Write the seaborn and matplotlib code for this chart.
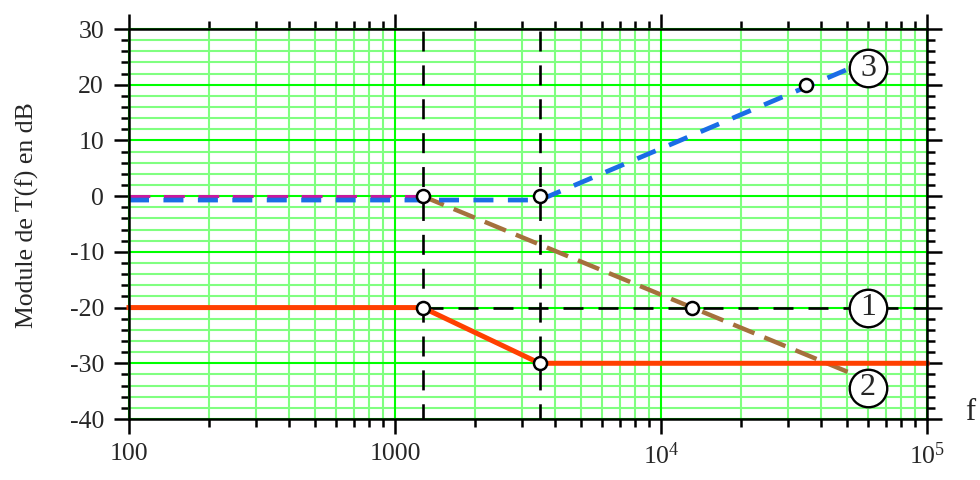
import matplotlib
matplotlib.use("Agg")
import matplotlib.pyplot as plt
import seaborn as sns
from matplotlib.ticker import FixedLocator, NullFormatter, FixedFormatter

# ---- data ----
f_corner = [1270, 3500]                     # corner frequencies (Hz)

# curve 1 (red, solid): asymptotic gain
red_f = [100, 1270, 3500, 100000]
red_db = [-20, -20, -30, -30]

# curve 2: flat part (magenta) then -20 dB/dec (brown)
mag_f = [100, 1270]
mag_db = [0, 0]
brown_f = [1270, 55000]
brown_db = [0, -32.3]

# curve 3 (blue): flat then +20 dB/dec
blue_f = [100, 3500, 50500]
blue_db = [-0.7, -0.7, 22.8]

# reference level -20 dB (black dashed)
ref_f = [1270, 100000]
ref_db = [-20, -20]

# marked points
pt_f = [1270, 3500, 1270, 3500, 13100, 35100]
pt_db = [0, 0, -20, -30, -20, 20]

# curve labels
lab_text = ["1", "2", "3"]
lab_f = [60000, 60000, 60000]
lab_db = [-20, -34.4, 23]

yticks = [30, 20, 10, 0, -10, -20, -30, -40]
xticks = [100, 1000, 10000, 100000]
xticklabels = ["100", "1000", r"$10^4$", r"$10^5$"]
minor_x = [m * 10 ** e for e in range(2, 5) for m in range(2, 10)]
minor_y = [v for v in range(-40, 31, 2) if v % 10]

# ---- style ----
sns.set_theme(style="white")
plt.rcParams["font.family"] = ["Liberation Serif", "DejaVu Serif"]
plt.rcParams["mathtext.fontset"] = "custom"
plt.rcParams["mathtext.rm"] = "Liberation Serif"
plt.rcParams["mathtext.it"] = "Liberation Serif:italic"
plt.rcParams["axes.unicode_minus"] = False
plt.rcParams["lines.scale_dashes"] = False

FS = 18.5
fig = plt.figure(figsize=(9.8, 4.8), dpi=100)
ax = fig.add_axes([129 / 980, (480 - 419) / 480, (927 - 129) / 980, 390 / 480])
ax.set_xscale("log")
ax.set_xlim(100, 100000)
ax.set_ylim(-40, 30)

ax.xaxis.set_major_locator(FixedLocator(xticks))
ax.xaxis.set_major_formatter(FixedFormatter(xticklabels))
ax.xaxis.set_minor_locator(FixedLocator(minor_x))
ax.xaxis.set_minor_formatter(NullFormatter())
ax.yaxis.set_major_locator(FixedLocator(yticks))
ax.yaxis.set_major_formatter(FixedFormatter([str(v) for v in yticks]))
ax.yaxis.set_minor_locator(FixedLocator(minor_y))
ax.grid(False)

# grid: minor first, major on top
for v in minor_x:
    ax.axvline(v, color="#80ff80", lw=1.5, zorder=0.5)
for v in minor_y:
    ax.axhline(v, color="#80ff80", lw=1.5, zorder=0.5)
for v in xticks:
    ax.axvline(v, color="#00ff00", lw=1.5, zorder=0.6)
for v in yticks:
    ax.axhline(v, color="#00ff00", lw=1.5, zorder=0.6)

for s in ax.spines.values():
    s.set_color("black")
    s.set_linewidth(1.8)
    s.set_zorder(5)
ax.tick_params(which="both", direction="out", top=True, right=True,
               bottom=True, left=True, width=1.8, color="black")
ax.tick_params(which="major", length=11, labelsize=FS)
ax.tick_params(axis="y", which="major", pad=7)
ax.tick_params(axis="x", which="major", pad=6)
ax.tick_params(which="minor", length=5.5)

# vertical dashed lines at corner frequencies
for fc in f_corner:
    ln, = ax.plot([fc, fc], [29.6, -40], color="black", lw=1.9, zorder=2)
    ln.set_dashes([14.4, 10])

# reference -20 dB
sns.lineplot(x=ref_f, y=ref_db, ax=ax, color="black", lw=1.9, zorder=2)
ax.get_lines()[-1].set_dashes([14.4, 10.8])

sns.lineplot(x=red_f, y=red_db, ax=ax, color="#ff4000", lw=3.6, zorder=4,
             estimator=None, solid_capstyle="projecting")
sns.lineplot(x=mag_f, y=mag_db, ax=ax, color="#c8189c", lw=2.2, zorder=3)
ax.get_lines()[-1].set_dashes([15, 9.8])
sns.lineplot(x=brown_f, y=brown_db, ax=ax, color="#a5703c", lw=3.2, zorder=3)
ax.get_lines()[-1].set_dashes([16.5, 7.7])
sns.lineplot(x=blue_f, y=blue_db, ax=ax, color="#1a6de6", lw=3.4, zorder=4,
             estimator=None)
ax.get_lines()[-1].set_dashes([14.4, 10.4])
for ln in ax.get_lines():
    ln.set_clip_on(False)

sns.scatterplot(x=pt_f, y=pt_db, ax=ax, s=88, color="white",
                edgecolor="black", linewidth=1.8, zorder=6, clip_on=False)

sns.scatterplot(x=lab_f, y=lab_db, ax=ax, s=27 ** 2, color="white",
                edgecolor="black", linewidth=1.7, zorder=7, clip_on=False)
for t, xf, yd in zip(lab_text, lab_f, lab_db):
    ax.text(xf, yd, t, ha="center", va="center", fontsize=23, zorder=8)

ax.set_ylabel("Module de T(f) en dB", fontsize=FS)
ax.yaxis.set_label_coords(-0.113, 0.523)
ax.set_xlabel("")
fig.text(970 / 980, (480 - 413) / 480, "f", fontsize=22, ha="center",
         va="center")

fig.savefig("out.png", dpi=100)
